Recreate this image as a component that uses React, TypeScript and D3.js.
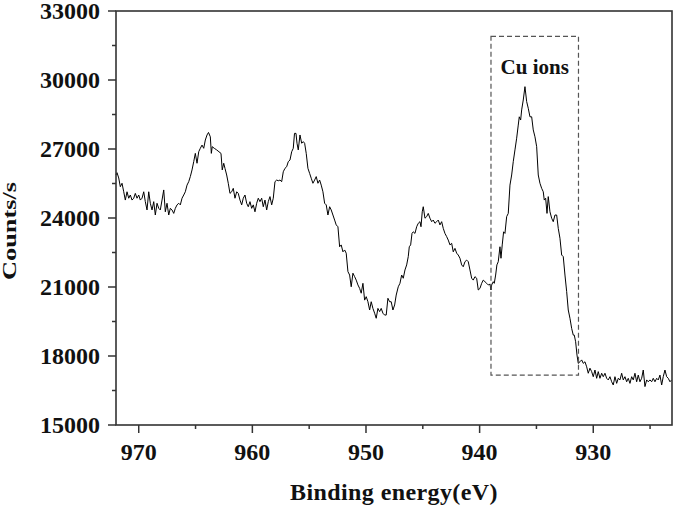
import React from "react";
import * as d3 from "d3";

const energy: number[] = [
  972.0, 971.91, 971.76, 971.62, 971.47, 971.32, 971.18, 971.03, 970.88, 970.74, 970.59, 970.44, 970.3, 970.15, 970.0,
  969.86, 969.71, 969.56, 969.42, 969.27, 969.12, 968.98, 968.83, 968.68, 968.54, 968.39, 968.24, 968.1, 967.95, 967.8,
  967.66, 967.51, 967.36, 967.22, 967.07, 966.92, 966.78, 966.63, 966.48, 966.34, 966.19, 966.04, 965.9, 965.75, 965.6,
  965.46, 965.31, 965.16, 965.02, 964.87, 964.72, 964.58, 964.43, 964.28, 964.14, 963.99, 963.86, 963.7, 963.61,
  963.53, 963.35, 963.14, 962.94, 962.76, 962.65, 962.52, 962.41, 962.26, 962.12, 961.97, 961.82, 961.68, 961.53, 961.38,
  961.24, 961.09, 960.94, 960.8, 960.65, 960.5, 960.36, 960.21, 960.06, 959.92, 959.77, 959.62, 959.48, 959.33, 959.18,
  959.04, 958.89, 958.74, 958.6, 958.45, 958.3, 958.16, 958.01, 957.86, 957.72, 957.57, 957.42, 957.28, 957.13, 956.98,
  956.84, 956.69, 956.54, 956.4, 956.29, 956.16, 956.07, 955.96, 955.81, 955.66, 955.52, 955.4, 955.26, 955.11, 954.96,
  954.82, 954.67, 954.52, 954.38, 954.23, 954.08, 953.94, 953.79, 953.64, 953.5, 953.35, 953.2, 953.06, 952.91, 952.76,
  952.62, 952.47, 952.32, 952.18, 952.03, 951.88, 951.74, 951.59, 951.44, 951.3, 951.15, 951.0, 950.86, 950.71, 950.56,
  950.42, 950.27, 950.12, 949.98, 949.83, 949.68, 949.54, 949.39, 949.24, 949.1, 948.95, 948.8, 948.66, 948.51, 948.36,
  948.22, 948.07, 947.92, 947.78, 947.63, 947.48, 947.34, 947.16, 947.01, 946.86, 946.72, 946.57, 946.42, 946.28, 946.19,
  946.07, 945.95, 945.84, 945.69, 945.54, 945.4, 945.25, 945.16, 945.05, 944.96, 944.81, 944.66, 944.52, 944.37, 944.22,
  944.08, 943.93, 943.78, 943.64, 943.49, 943.34, 943.2, 943.05, 942.9, 942.76, 942.61, 942.46, 942.32, 942.17, 942.02,
  941.88, 941.73, 941.58, 941.44, 941.29, 941.14, 941.0, 940.85, 940.7, 940.56, 940.41, 940.26, 940.12, 939.97, 939.82,
  939.68, 939.53, 939.38, 939.24, 939.09, 939.0, 938.94, 938.8, 938.71, 938.59, 938.48, 938.36, 938.21, 938.12, 938.01,
  937.89, 937.77, 937.62, 937.48, 937.33, 937.18, 937.04, 936.89, 936.74, 936.6, 936.51, 936.39, 936.3, 936.16, 936.01,
  935.86, 935.72, 935.57, 935.42, 935.28, 935.13, 934.98, 934.84, 934.69, 934.54, 934.4, 934.31, 934.19, 934.07, 933.96,
  933.81, 933.66, 933.52, 933.37, 933.22, 933.08, 932.93, 932.78, 932.64, 932.49, 932.34, 932.2, 932.05, 931.9, 931.76,
  931.67, 931.55, 931.43, 931.32, 931.17, 931.02, 930.88, 930.73, 930.58, 930.44, 930.29, 930.14, 930.0, 929.85, 929.7,
  929.56, 929.41, 929.26, 929.12, 928.97, 928.82, 928.68, 928.53, 928.38, 928.24, 928.09, 927.94, 927.8, 927.65, 927.5,
  927.36, 927.21, 927.06, 926.92, 926.77, 926.62, 926.48, 926.33, 926.18, 926.04, 925.89, 925.74, 925.6, 925.45, 925.3,
  925.16, 925.01, 924.86, 924.72, 924.57, 924.42, 924.28, 924.13, 923.98, 923.84, 923.69, 923.54, 923.4, 923.25, 923.1,
];

const counts: number[] = [
  25870, 25970, 25740, 25360, 25510, 25140, 24780, 25140, 24860, 25000, 24780, 24860, 25070, 24860, 25000,
  24780, 24860, 25140, 24710, 24350, 25140, 24640, 24350, 24710, 24130, 24640, 24420, 24350, 24780, 25220,
  24270, 24640, 24130, 24420, 24350, 24200, 24420, 24570, 24640, 24570, 24860, 25000, 25140, 25430, 25580,
  25800, 26090, 26450, 26810, 26380, 26880, 27030, 27170, 27030, 27390, 27610, 27720, 27530, 26810,
  27100, 27030, 26960, 26880, 26810, 26090, 26380, 26160, 25870, 25510, 25070, 25140, 25290, 24860, 25140,
  25070, 24780, 24570, 24860, 25000, 24640, 24490, 24710, 24420, 24570, 24270, 24640, 24860, 24710, 24860,
  24490, 24780, 24350, 24710, 24930, 24570, 24860, 25580, 25650, 25620, 25650, 25580, 26010, 26160, 26230,
  26450, 26520, 26880, 27030, 27680, 27680, 27250, 26960, 27610, 27250, 27320, 27250, 26810, 26160, 25940,
  25730, 25510, 25650, 25800, 25510, 25650, 25430, 25140, 24640, 24570, 24130, 24490, 24350, 24130, 23910,
  23700, 23620, 22750, 22830, 22530, 22610, 22470, 21670, 21520, 21010, 21600, 21450, 21300, 21090, 20940,
  20730, 21160, 20430, 20580, 20360, 20000, 20360, 20070, 19860, 19640, 20070, 19930, 20070, 19860, 19780,
  19780, 20510, 20360, 20360, 20000, 20220, 20650, 21010, 21160, 21520, 21380, 21740, 21960, 22320, 22750,
  22830, 23330, 23400, 23330, 23620, 23770, 23840, 23620, 24270, 24490, 23990, 24060, 24200, 23990, 23840,
  23910, 23770, 23840, 23910, 23700, 23840, 23550, 23330, 23190, 23040, 22830, 22900, 22530, 22680, 22470,
  22390, 22250, 21960, 21880, 22100, 22170, 22100, 21740, 21380, 21300, 21450, 21380, 20870, 20940, 21160,
  21300, 21230, 21160, 21090, 21120, 20870, 21090, 21230, 21160, 21520, 21960, 22100, 22750, 22250, 22830,
  23400, 23330, 24060, 24200, 25430, 25870, 26450, 26960, 27470, 28040, 28400, 28260, 28700, 29130, 29710,
  29060, 28770, 28400, 28400, 27830, 27530, 27100, 25870, 25510, 25290, 25140, 24780, 24860, 24200, 24930,
  24270, 23990, 23840, 24130, 24130, 23550, 23120, 22390, 22320, 21520, 20800, 20000, 19640, 19200, 18910,
  18910, 18620, 18040, 17680, 17750, 17830, 17680, 17750, 17530, 17250, 17470, 17320, 17100, 17390, 17030,
  17320, 17030, 17250, 17100, 17250, 17030, 16960, 17100, 16880, 16740, 17100, 16810, 17030, 16960, 17250,
  16960, 17100, 16880, 17030, 16810, 17100, 16960, 17250, 16880, 17170, 16880, 17030, 17390, 16670, 16960,
  16880, 16960, 16880, 17030, 16880, 17030, 16960, 17170, 16740, 17100, 17390, 17100, 17030, 16880, 16960,
];

const xTickValues: number[] = [970, 960, 950, 940, 930];
const xMinorTickValues: number[] = [965, 955, 945, 935, 925];
const yTickValues: number[] = [15000, 18000, 21000, 24000, 27000, 30000, 33000];
const yMinorTickValues: number[] = [16500, 19500, 22500, 25500, 28500, 31500];
const xDomain: number[] = [972, 923.07];
const yDomain: number[] = [15000, 33000];
const boxEnergy: number[] = [939.0, 931.3];
const boxCounts: number[] = [31900, 17170];
const xTitle = "Binding energy(eV)";
const yTitle = "Counts/s";
const annotation = "Cu ions";

const W = 675;
const H = 507;
const left = 116;
const right = 672;
const top = 11;
const bottom = 425;

export default function App() {
  const x = d3.scaleLinear().domain(xDomain).range([left, right]);
  const y = d3.scaleLinear().domain(yDomain).range([bottom, top]);
  const pts: [number, number][] = energy.map((e, i) => [e, counts[i]]);
  const line = d3
    .line<[number, number]>()
    .x((d) => x(d[0]))
    .y((d) => y(d[1]));
  const tstyle: React.CSSProperties = {
    fontFamily: '"Liberation Serif", "Times New Roman", Times, serif',
    fontWeight: 700,
  };
  const axisColor = "#333";
  return (
    <svg width={W} height={H} style={{ position: "absolute", left: 0, top: 0, background: "#fff" }}>
      <rect x={0} y={0} width={W} height={H} fill="#fff" />
      <path d={line(pts) || ""} fill="none" stroke="#000" strokeWidth={1} strokeLinejoin="round" />
      <rect x={left} y={top} width={right - left} height={bottom - top} fill="none" stroke={axisColor} strokeWidth={1.6} />
      {yTickValues.map((v) => (
        <g key={"yt" + v}>
          <line x1={left - 8} x2={left} y1={y(v)} y2={y(v)} stroke={axisColor} strokeWidth={1.5} />
          <text x={100} y={y(v) + 8} textAnchor="end" fontSize={24} style={tstyle} fill="#111">
            {v}
          </text>
        </g>
      ))}
      {yMinorTickValues.map((v) => (
        <line key={"ym" + v} x1={left - 4} x2={left} y1={y(v)} y2={y(v)} stroke={axisColor} strokeWidth={1.5} />
      ))}
      {xTickValues.map((v) => (
        <g key={"xt" + v}>
          <line x1={x(v)} x2={x(v)} y1={bottom} y2={bottom + 8} stroke={axisColor} strokeWidth={1.5} />
          <text x={x(v)} y={460} textAnchor="middle" fontSize={24} style={tstyle} fill="#111">
            {v}
          </text>
        </g>
      ))}
      {xMinorTickValues.map((v) => (
        <line key={"xm" + v} x1={x(v)} x2={x(v)} y1={bottom} y2={bottom + 4} stroke={axisColor} strokeWidth={1.5} />
      ))}
      <text x={(left + right) / 2} y={500} textAnchor="middle" fontSize={24} letterSpacing={0.4} style={tstyle} fill="#111">
        {xTitle}
      </text>
      <text
        transform={`translate(16,231) rotate(-90)`}
        textAnchor="middle"
        fontSize={19}
        style={tstyle}
        fill="#111"
        textLength={98}
        lengthAdjust="spacingAndGlyphs"
      >
        {yTitle}
      </text>
      <rect
        x={x(boxEnergy[0])}
        y={y(boxCounts[0])}
        width={x(boxEnergy[1]) - x(boxEnergy[0])}
        height={y(boxCounts[1]) - y(boxCounts[0])}
        fill="none"
        stroke="#555"
        strokeWidth={1.2}
        strokeDasharray="5,3"
      />
      <text x={(x(boxEnergy[0]) + x(boxEnergy[1])) / 2} y={74} textAnchor="middle" fontSize={21} style={tstyle} fill="#111">
        {annotation}
      </text>
    </svg>
  );
}
